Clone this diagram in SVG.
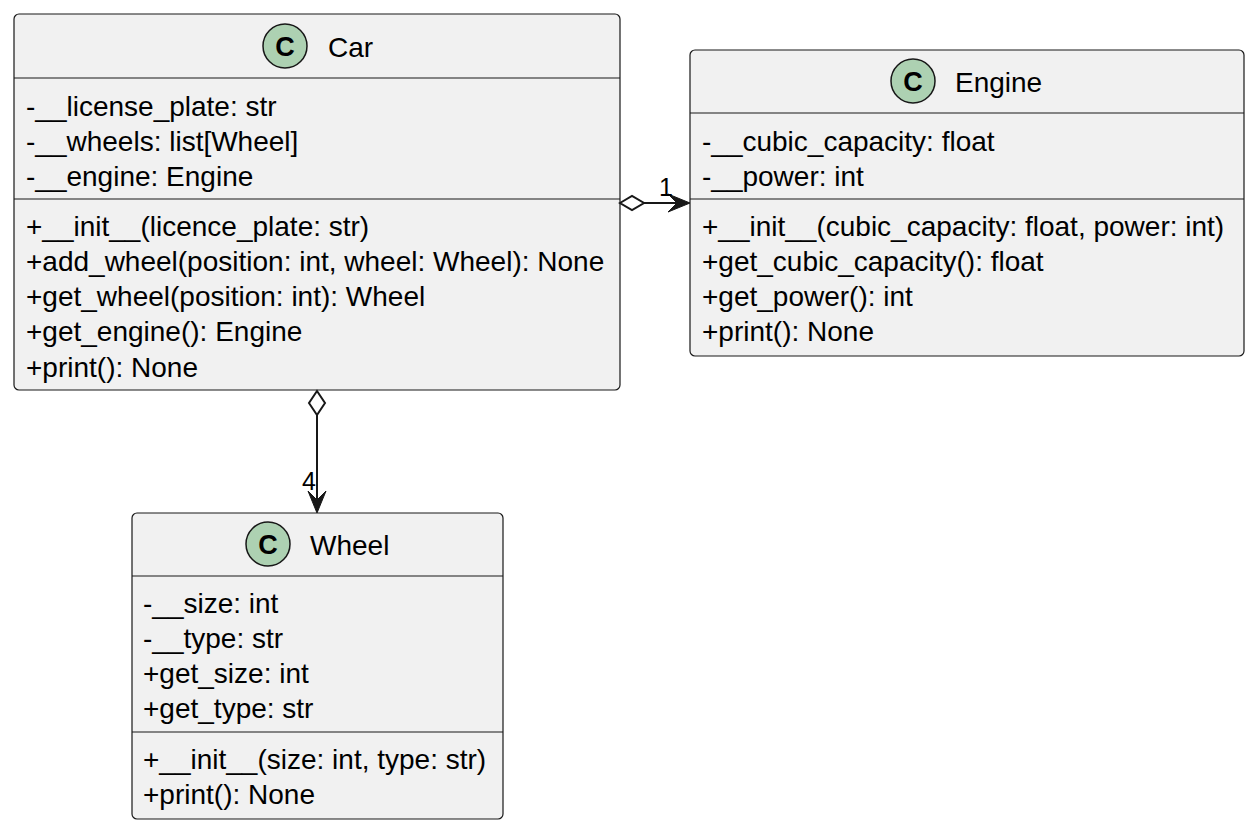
<svg xmlns="http://www.w3.org/2000/svg" width="1256" height="831" viewBox="0 0 1256 831">
<style>
.box{fill:#F1F1F1;stroke:#181818;stroke-width:1.2}
.sep{stroke:#181818;stroke-width:1.2}
.ic{fill:#ADD1B2;stroke:#181818;stroke-width:1.5}
.icl{font-family:"Liberation Sans",Arial,sans-serif;font-size:27px;font-weight:bold;fill:#000;text-anchor:middle}
.t{font-family:"Liberation Sans",Arial,sans-serif;font-size:28px;fill:#000}
.lbl{font-family:"Liberation Sans",Arial,sans-serif;font-size:25px;fill:#000}
.edge{stroke:#181818;stroke-width:2;fill:none}
.dia{fill:#FFFFFF;stroke:#181818;stroke-width:2}
.head{fill:#181818;stroke:#181818;stroke-width:1}
</style>
<rect width="1256" height="831" fill="#FFFFFF"/>
<g id="car">
<rect class="box" x="14" y="14" width="606" height="376" rx="5"/>
<circle class="ic" cx="285" cy="46" r="22"/>
<text class="icl" x="285" y="56">C</text>
<text class="t" x="328" y="57">Car</text>
<line class="sep" x1="14" y1="78" x2="620" y2="78"/>
<text class="t" x="26" y="116">-__license_plate: str</text>
<text class="t" x="26" y="151">-__wheels: list[Wheel]</text>
<text class="t" x="26" y="186">-__engine: Engine</text>
<line class="sep" x1="14" y1="199" x2="620" y2="199"/>
<text class="t" x="26" y="236">+__init__(licence_plate: str)</text>
<text class="t" x="26" y="271">+add_wheel(position: int, wheel: Wheel): None</text>
<text class="t" x="26" y="306">+get_wheel(position: int): Wheel</text>
<text class="t" x="26" y="341">+get_engine(): Engine</text>
<text class="t" x="26" y="377">+print(): None</text>
</g>
<g id="engine">
<rect class="box" x="690" y="50" width="554" height="306" rx="5"/>
<circle class="ic" cx="913" cy="81" r="22"/>
<text class="icl" x="913" y="91">C</text>
<text class="t" x="955" y="92">Engine</text>
<line class="sep" x1="690" y1="113" x2="1244" y2="113"/>
<text class="t" x="702" y="151">-__cubic_capacity: float</text>
<text class="t" x="702" y="186">-__power: int</text>
<line class="sep" x1="690" y1="199" x2="1244" y2="199"/>
<text class="t" x="702" y="236">+__init__(cubic_capacity: float, power: int)</text>
<text class="t" x="702" y="271">+get_cubic_capacity(): float</text>
<text class="t" x="702" y="306">+get_power(): int</text>
<text class="t" x="702" y="341">+print(): None</text>
</g>
<g id="wheel">
<rect class="box" x="132" y="513" width="371" height="306" rx="5"/>
<circle class="ic" cx="268" cy="544" r="22"/>
<text class="icl" x="268" y="554">C</text>
<text class="t" x="310" y="555">Wheel</text>
<line class="sep" x1="132" y1="576" x2="503" y2="576"/>
<text class="t" x="143" y="613">-__size: int</text>
<text class="t" x="143" y="648">-__type: str</text>
<text class="t" x="143" y="683">+get_size: int</text>
<text class="t" x="143" y="718">+get_type: str</text>
<line class="sep" x1="132" y1="732" x2="503" y2="732"/>
<text class="t" x="143" y="769">+__init__(size: int, type: str)</text>
<text class="t" x="143" y="804">+print(): None</text>
</g>
<g id="connectors">
<line class="edge" x1="644" y1="203" x2="684" y2="203"/>
<polygon class="dia" points="620,203 632,196 644,203 632,210"/>
<polygon class="head" points="690,203 668,194 677,203 668,212"/>
<text class="lbl" x="659" y="196">1</text>
<line class="edge" x1="317" y1="415" x2="317" y2="507"/>
<polygon class="dia" points="317,391 325,403 317,415 309,403"/>
<polygon class="head" points="317,513 308,491 317,500 326,491"/>
<text class="lbl" x="302" y="490">4</text>
</g>
</svg>
